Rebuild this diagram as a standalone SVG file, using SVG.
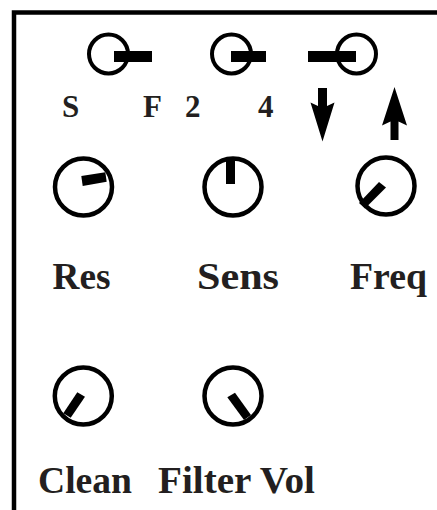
<svg xmlns="http://www.w3.org/2000/svg" width="437" height="510" viewBox="0 0 437 510">
<style>
.ring{fill:none;stroke:#000;stroke-width:4}
.knob{fill:none;stroke:#000;stroke-width:4.5}
.bar{fill:#000}
.lbl{font-family:"Liberation Serif","Times New Roman",serif;font-weight:bold;fill:#231f20}
.big{font-size:37px}
.small{font-size:31px}
</style>
<rect width="437" height="510" fill="#fff"/>
<rect id="panel" x="14" y="12.5" width="440" height="520" fill="none" stroke="#000" stroke-width="4.5"/>
<g id="switch-sf">
<circle class="ring" cx="108.5" cy="54" r="19.5"/>
<rect class="bar" x="114" y="51" width="38" height="11"/>
<text class="lbl small" x="62" y="117">S</text>
<text class="lbl small" x="143" y="117">F</text>
</g>
<g id="switch-24">
<circle class="ring" cx="231.5" cy="54" r="19.5"/>
<rect class="bar" x="231" y="51" width="35" height="11"/>
<text class="lbl small" x="185" y="117">2</text>
<text class="lbl small" x="258" y="117">4</text>
</g>
<g id="switch-updown">
<circle class="ring" cx="356.5" cy="54" r="19.5"/>
<rect class="bar" x="308" y="51" width="48" height="11"/>
<path class="bar" d="M318,88 H327 V106 L334.5,102.5 L322.5,141.5 L310.5,102.5 L318,106 Z"/>
<path class="bar" d="M394.5,87 L407,125.5 L398.5,121.5 V140 H390.5 V121.5 L382,125.5 Z"/>
</g>
<g id="knob-res">
<circle class="knob" cx="83.5" cy="187" r="28.5"/>
<polygon class="bar" points="81.3,176 105.3,172.3 106.7,181.7 82.7,186"/>
<text class="lbl big" x="52.5" y="289" textLength="58" lengthAdjust="spacingAndGlyphs">Res</text>
</g>
<g id="knob-sens">
<circle class="knob" cx="233" cy="187" r="28.5"/>
<rect class="bar" x="226" y="157" width="9" height="27"/>
<text class="lbl big" x="197" y="289" textLength="82" lengthAdjust="spacingAndGlyphs">Sens</text>
</g>
<g id="knob-freq">
<circle class="knob" cx="386" cy="186" r="28.5"/>
<polygon class="bar" points="359,203 379,182 386,187.5 365,208.5"/>
<text class="lbl big" x="350" y="289" textLength="77" lengthAdjust="spacingAndGlyphs">Freq</text>
</g>
<g id="knob-clean">
<circle class="knob" cx="83.3" cy="396" r="28.5"/>
<polygon class="bar" points="63.3,413.3 77.3,392.3 85,396.7 70.7,417.7"/>
<text class="lbl big" x="38" y="493" textLength="94" lengthAdjust="spacingAndGlyphs">Clean</text>
</g>
<g id="knob-filtervol">
<circle class="knob" cx="233" cy="396" r="28.5"/>
<polygon class="bar" points="227.3,397.3 235,392.7 251,415 244,420"/>
<text class="lbl big" x="158" y="493" textLength="157" lengthAdjust="spacingAndGlyphs">Filter Vol</text>
</g>
<g id="connectors"/>
</svg>
